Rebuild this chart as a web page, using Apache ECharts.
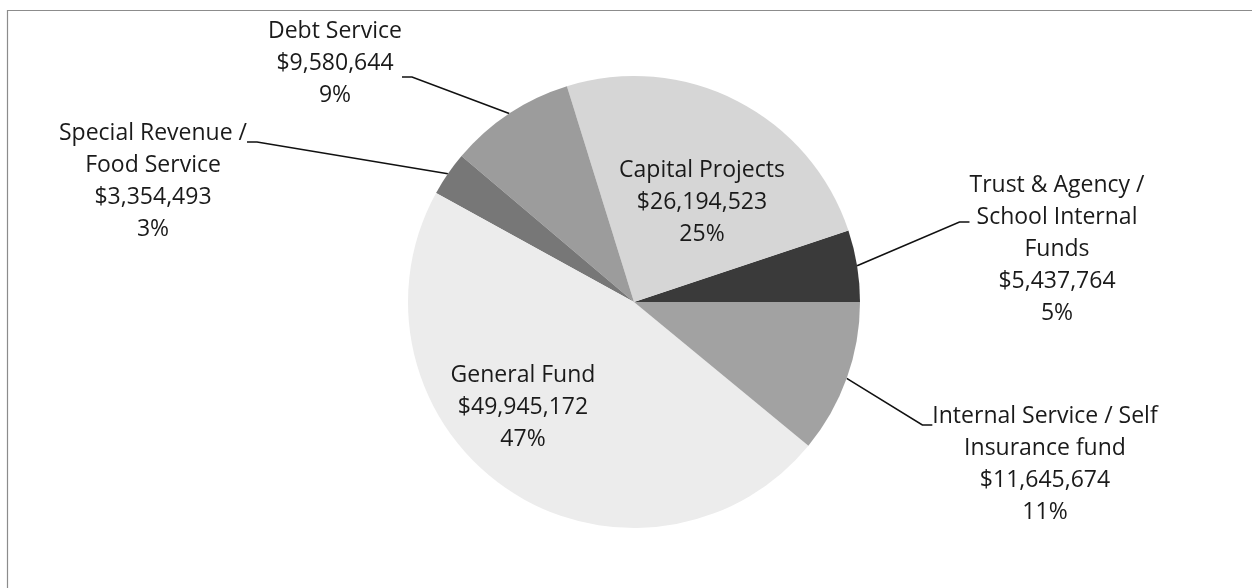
<!DOCTYPE html>
<html>
<head>
<meta charset="utf-8">
<script src="https://cdn.jsdelivr.net/npm/echarts@6/dist/echarts.min.js"></script>
<style>
html,body{margin:0;padding:0;background:#fff;}
#chart{width:1252px;height:588px;}
</style>
</head>
<body>
<div id="chart"></div>
<script>
// Data (counter-clockwise from 3 o'clock)
var categories = [
  'Trust & Agency /\nSchool Internal\nFunds',
  'Capital Projects',
  'Debt Service',
  'Special Revenue /\nFood Service',
  'General Fund',
  'Internal Service / Self\nInsurance fund'
];
var values = [5437764, 26194523, 9580644, 3354493, 49945172, 11645674];
var colors = ['#3a3a3a', '#d6d6d6', '#9c9c9c', '#777777', '#ececec', '#a2a2a2'];

// label layout config (top of label box; padding shifts the leader attach point)
var labelCfg = [
  {x: 1057, y: 115, pad: [54, 0, 0, 0], inside: false},
  {x: 702,  y: 154, pad: [0, 0, 0, 0],  inside: true},
  {x: 335,  y: 15,  pad: [0, 0, 28, 0], inside: false},
  {x: 153,  y: 39,  pad: [78, 0, 0, 0], inside: false},
  {x: 523,  y: 359, pad: [0, 0, 0, 0],  inside: true},
  {x: 1045, y: 322, pad: [78, 0, 0, 0], inside: false}
];

var data = categories.map(function (name, i) {
  var cfg = labelCfg[i];
  return {
    name: name,
    value: values[i],
    itemStyle: {color: colors[i]},
    label: {position: cfg.inside ? 'inside' : 'outside', padding: cfg.pad},
    labelLine: {show: !cfg.inside}
  };
});

var chart = echarts.init(document.getElementById('chart'));
chart.setOption({
  animation: false,
  backgroundColor: '#ffffff',
  graphic: [{
    type: 'rect',
    shape: {x: 7.5, y: 10.5, width: 1400, height: 800},
    style: {fill: 'none', stroke: '#8c8c8c', lineWidth: 1.2},
    silent: true, z: 0
  }],
  series: [{
    type: 'pie',
    center: [634, 302],
    radius: 226,
    startAngle: 0,
    clockwise: false,
    avoidLabelOverlap: false,
    data: data,
    label: {
      show: true,
      fontFamily: 'Open Sans',
      fontSize: 23,
      lineHeight: 32,
      color: '#1a1a1a',
      align: 'center',
      formatter: function (p) {
        return p.name + '\n$' + p.value.toLocaleString('en-US') + '\n' + Math.round(p.percent) + '%';
      }
    },
    labelLine: {
      show: true,
      length: 20,
      length2: 10,
      lineStyle: {color: '#111111', width: 1.6}
    },
    labelLayout: function (params) {
      var cfg = labelCfg[params.dataIndex];
      return {x: cfg.x, y: cfg.y, align: 'center', verticalAlign: 'top'};
    },
    emphasis: {disabled: true}
  }]
});
</script>
</body>
</html>
